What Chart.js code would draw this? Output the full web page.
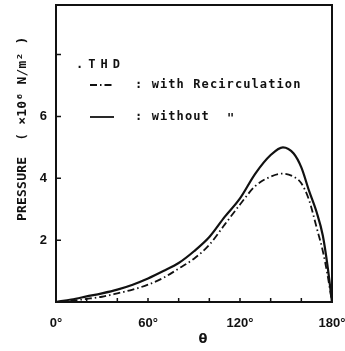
<!DOCTYPE html>
<html>
<head>
<meta charset="utf-8">
<script src="https://cdn.jsdelivr.net/npm/chart.js@4"></script>
<style>
  html, body { margin: 0; padding: 0; background: #fff; }
  #wrap { width: 345px; height: 351px; }
</style>
</head>
<body>
<div id="wrap"><canvas id="c"></canvas></div>
<script>
// crank angle (deg) and pressure (x10^6 N/m^2)
var theta = [0, 10, 20, 30, 40, 50, 60, 70, 80, 90, 100, 110, 120, 130, 140, 148, 155, 160, 165, 170, 174, 177, 180];
var withRecirc = [0, 0.04, 0.1, 0.17, 0.28, 0.4, 0.56, 0.78, 1.08, 1.4, 1.85, 2.5, 3.15, 3.75, 4.05, 4.15, 4.05, 3.84, 3.3, 2.4, 1.65, 0.9, 0];
var without = [0, 0.08, 0.18, 0.28, 0.4, 0.56, 0.76, 1.0, 1.26, 1.64, 2.1, 2.75, 3.35, 4.15, 4.75, 5.0, 4.8, 4.35, 3.6, 2.9, 2.15, 1.2, 0];

var xLabelTicks = [0, 60, 120, 180];
var xMinorTicks = [20, 40, 60, 80, 100, 120, 140, 160];
var yLabelTicks = [2, 4, 6];
var yMarkTicks = [2, 4, 6, 8];

var INK = '#111';
var dashDot = [7, 3, 1.5, 3];

function pts(ys) {
    return theta.map(function (t, i) { return { x: t, y: ys[i] }; });
}

function noPad(s) {
    s.paddingLeft = 0; s.paddingRight = 0;
    s.paddingTop = 0; s.paddingBottom = 0;
}

// frame, inward ticks, legend block and y title
var decor = {
    id: 'decor',
    afterDraw: function (chart) {
        var ctx = chart.ctx, a = chart.chartArea;
        var xs = chart.scales.x, ys = chart.scales.y;
        ctx.save();
        ctx.strokeStyle = INK;
        ctx.fillStyle = INK;

        // box
        ctx.lineWidth = 2;
        ctx.strokeRect(a.left, a.top, a.right - a.left, a.bottom - a.top);

        // inward tick marks
        ctx.lineWidth = 1.5;
        ctx.beginPath();
        xMinorTicks.forEach(function (v) {
            var px = xs.getPixelForValue(v);
            ctx.moveTo(px, a.bottom);
            ctx.lineTo(px, a.bottom - 4);
        });
        yMarkTicks.forEach(function (v) {
            var py = ys.getPixelForValue(v);
            ctx.moveTo(a.left, py);
            ctx.lineTo(a.left + 5, py);
        });
        ctx.stroke();

        // legend
        ctx.textBaseline = 'middle';
        ctx.textAlign = 'left';
        ctx.font = 'bold 12px "DejaVu Sans Mono"';
        ctx.letterSpacing = '5px';
        ctx.fillText('.THD', 76, 65);

        ctx.letterSpacing = '1.1px';
        ctx.lineWidth = 1.8;
        ctx.setLineDash(dashDot);
        ctx.beginPath();
        ctx.moveTo(90, 85);
        ctx.lineTo(114, 85);
        ctx.stroke();
        ctx.setLineDash([]);
        ctx.fillText(': with Recirculation', 135, 85);

        ctx.beginPath();
        ctx.moveTo(90, 117);
        ctx.lineTo(114, 117);
        ctx.stroke();
        ctx.fillText(': without', 135, 117);
        ctx.fillText('"', 227, 119);

        // y title (rotated)
        ctx.save();
        ctx.translate(23, 221);
        ctx.rotate(-Math.PI / 2);
        ctx.font = 'bold 13px "DejaVu Sans Mono"';
        ctx.letterSpacing = '0.2px';
        ctx.fillText('PRESSURE  ( \u00d710\u2076 N/m\u00b2 )', 0, 0);
        ctx.restore();

        // x title
        ctx.letterSpacing = '0px';
        ctx.textAlign = 'center';
        ctx.font = 'bold 13px "DejaVu Sans"';
        ctx.fillText('\u03b8', 203, 340);

        ctx.restore();
    }
};

var ctx = document.getElementById('c').getContext('2d');
var chart = new Chart(ctx, {
    type: 'line',
    data: {
        datasets: [{
            label: 'with Recirculation',
            data: pts(withRecirc),
            borderColor: INK,
            borderWidth: 1.8,
            borderDash: dashDot,
            pointRadius: 0,
            cubicInterpolationMode: 'monotone',
            fill: false
        }, {
            label: 'without',
            data: pts(without),
            borderColor: INK,
            borderWidth: 2.2,
            pointRadius: 0,
            cubicInterpolationMode: 'monotone',
            fill: false
        }]
    },
    options: {
        responsive: true,
        maintainAspectRatio: false,
        animation: false,
        layout: { padding: { left: 0, right: 13, top: 5, bottom: 0 } },
        plugins: {
            legend: { display: false },
            tooltip: { enabled: false }
        },
        scales: {
            x: {
                type: 'linear',
                min: 0,
                max: 180,
                afterFit: function (s) { s.height = 49; noPad(s); },
                grid: { display: false, drawTicks: false },
                border: { display: false },
                ticks: {
                    stepSize: 60,
                    autoSkip: false,
                    maxRotation: 0,
                    padding: 14,
                    color: INK,
                    font: { family: 'Liberation Sans', size: 13, weight: 'bold' },
                    callback: function (v) { return xLabelTicks.indexOf(v) >= 0 ? v + '\u00b0' : ''; }
                }
            },
            y: {
                min: 0,
                max: 9.6,
                afterFit: function (s) { s.width = 56; noPad(s); },
                grid: { display: false, drawTicks: false },
                border: { display: false },
                ticks: {
                    stepSize: 2,
                    padding: 9,
                    color: INK,
                    font: { family: 'Liberation Sans', size: 13, weight: 'bold' },
                    callback: function (v) { return yLabelTicks.indexOf(v) >= 0 ? String(v) : ''; }
                }
            }
        }
    },
    plugins: [decor]
});
</script>
</body>
</html>
